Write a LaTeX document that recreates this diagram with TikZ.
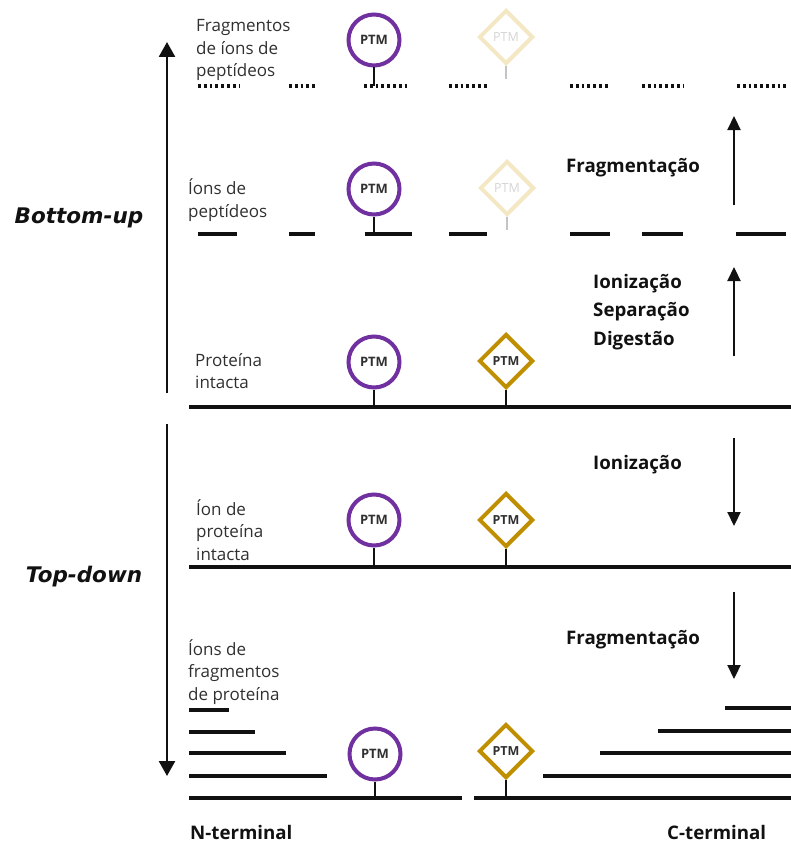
\documentclass[tikz,border=0pt]{standalone}
\usepackage{fontspec}
\setmainfont{Open Sans}
\newfontfamily\dejavu{DejaVu Sans}
\usetikzlibrary{arrows.meta,shapes.geometric}
\definecolor{ptmpurple}{HTML}{7030A0}
\definecolor{ptmgold}{HTML}{BF8F00}
\definecolor{fadegold}{HTML}{F3E7C4}
\definecolor{fadetext}{HTML}{D4D4D4}
\definecolor{fadestem}{HTML}{C4C4C4}
\definecolor{ink}{HTML}{111111}
\definecolor{lbltext}{HTML}{303030}
\begin{document}
\begin{tikzpicture}[x=1pt,y=-1pt,
  chainline/.style={draw=ink,line width=4pt},
  dotline/.style={draw=ink,line width=3.2pt,dash pattern=on 2.8pt off 3pt},
  ptmc/.style={circle,draw=ptmpurple,line width=4pt,minimum size=51pt,inner sep=0pt,
    font=\fontsize{13}{13}\selectfont\bfseries,text=lbltext},
  ptmd/.style={diamond,draw=ptmgold,line width=4pt,minimum width=54pt,minimum height=54pt,
    inner sep=0pt,font=\fontsize{12.5}{12.5}\selectfont\bfseries,text=lbltext},
  fadedd/.style={ptmd,draw=fadegold,text=fadetext,font=\fontsize{12.5}{12.5}\selectfont},
  stem/.style={draw=ink,line width=2.5pt},
  fadestemline/.style={draw=fadestem,line width=2.5pt},
  flow/.style={draw=ink,line width=2.2pt,-{Triangle[length=14pt,width=13pt]}},
  bigflow/.style={draw=ink,line width=2.5pt,-{Triangle[length=15pt,width=16pt]}},
  lbl/.style={anchor=west,align=left,text=lbltext,font=\fontsize{17}{22.5}\selectfont,inner sep=0pt},
  stage/.style={anchor=west,align=left,text=ink,font=\fontsize{18.7}{28.5}\selectfont\bfseries,inner sep=0pt},
  approach/.style={text=ink,font=\dejavu\fontsize{21.5}{24}\selectfont\bfseries\itshape,inner sep=0pt}
]
\useasboundingbox (0,0) rectangle (791,843);

% ---------- left approach arrows ----------
\coordinate (bu0) at (167,393);
\coordinate (bu1) at (167,42);
\draw[bigflow] (bu0) -- (bu1);
\node[approach] (bottomup) at (79,218) {Bottom-up};
\coordinate (td0) at (167,424);
\coordinate (td1) at (167,776);
\draw[bigflow] (td0) -- (td1);
\node[approach] (topdown) at (84,577) {Top-down};

% ---------- row 1: peptide ion fragments ----------
\node[lbl] (lab1) at (196,50) {Fragmentos\\de íons de\\peptídeos};
\foreach \a/\b [count=\i] in {198/240,289/317,364/410,449/489,570/610,642/683,737/786}{
  \coordinate (d\i a) at (\a,86);
  \coordinate (d\i b) at (\b,86);
  \draw[dotline] (d\i a) -- (d\i b);
}
\node[ptmc] (c1) at (374,40) {PTM};
\draw[stem] (c1.south) -- (c1.south |- d3a);
\node[fadedd] (f1) at (506,37) {PTM};
\coordinate (f1e) at (506,79);
\draw[fadestemline] (f1.south) -- (f1e);

% ---------- row 2: peptide ions ----------
\node[lbl] (lab2) at (188,200) {Íons de\\peptídeos};
\foreach \a/\b [count=\i] in {198/237,289/315,365/412,449/487,570/610,642/683,736/786}{
  \coordinate (p\i a) at (\a,234);
  \coordinate (p\i b) at (\b,234);
  \draw[chainline] (p\i a) -- (p\i b);
}
\node[ptmc] (c2) at (374,189) {PTM};
\draw[stem] (c2.south) -- (c2.south |- p3a);
\node[fadedd] (f2) at (507,188) {PTM};
\coordinate (f2e) at (507,230);
\draw[fadestemline] (f2.south) -- (f2e);

% ---------- row 3: intact protein ----------
\node[lbl] (lab3) at (195,371) {Proteína\\intacta};
\coordinate (l3a) at (189,407);
\coordinate (l3b) at (791,407);
\draw[chainline] (l3a) -- (l3b);
\node[ptmc] (c3) at (374,362) {PTM};
\draw[stem] (c3.south) -- (c3.south |- l3a);
\node[ptmd] (g3) at (506,361) {PTM};
\draw[stem] (g3.south) -- (g3.south |- l3a);

% ---------- row 4: intact protein ion ----------
\node[lbl] (lab4) at (196,530) {Íon de\\proteína\\intacta};
\coordinate (l4a) at (189,567);
\coordinate (l4b) at (791,567);
\draw[chainline] (l4a) -- (l4b);
\node[ptmc] (c4) at (374,520) {PTM};
\draw[stem] (c4.south) -- (c4.south |- l4a);
\node[ptmd] (g4) at (506,520) {PTM};
\draw[stem] (g4.south) -- (g4.south |- l4a);

% ---------- row 5: protein fragment ions ----------
\node[lbl] (lab5) at (188,672) {Íons de\\fragmentos\\de proteína};
\coordinate (m1a) at (189,798);
\coordinate (m1b) at (462,798);
\coordinate (m2a) at (474,798);
\coordinate (m2b) at (791,798);
\draw[chainline] (m1a) -- (m1b);
\draw[chainline] (m2a) -- (m2b);
\foreach \y/\b [count=\i] in {710/229,732/255,753/286,776/327}{
  \coordinate (nf\i a) at (189,\y);
  \coordinate (nf\i b) at (\b,\y);
  \draw[chainline] (nf\i a) -- (nf\i b);
}
\foreach \y/\a [count=\i] in {708/725,731/658,753/600,776/543}{
  \coordinate (cf\i a) at (\a,\y);
  \coordinate (cf\i b) at (791,\y);
  \draw[chainline] (cf\i a) -- (cf\i b);
}
\node[ptmc] (c5) at (375,754) {PTM};
\draw[stem] (c5.south) -- (c5.south |- m1a);
\node[ptmd] (g5) at (506,751) {PTM};
\draw[stem] (g5.south) -- (g5.south |- m2a);

% ---------- right process arrows ----------
\coordinate (a1s) at (734,205);
\coordinate (a1e) at (734,116);
\draw[flow] (a1s) -- (a1e);
\node[stage] (s1) at (566,168) {Fragmentação};
\coordinate (a2s) at (734,356);
\coordinate (a2e) at (734,267);
\draw[flow] (a2s) -- (a2e);
\node[stage] (s2) at (593,312) {Ionização\\Separação\\Digestão};
\coordinate (a3s) at (734,438);
\coordinate (a3e) at (734,526);
\draw[flow] (a3s) -- (a3e);
\node[stage] (s3) at (593,465) {Ionização};
\coordinate (a4s) at (734,592);
\coordinate (a4e) at (734,679);
\draw[flow] (a4s) -- (a4e);
\node[stage] (s4) at (566,640) {Fragmentação};

% ---------- termini ----------
\node[stage] (nterm) at (190,832) {N-terminal};
\node[stage] (cterm) at (667,832) {C-terminal};
\end{tikzpicture}
\end{document}
